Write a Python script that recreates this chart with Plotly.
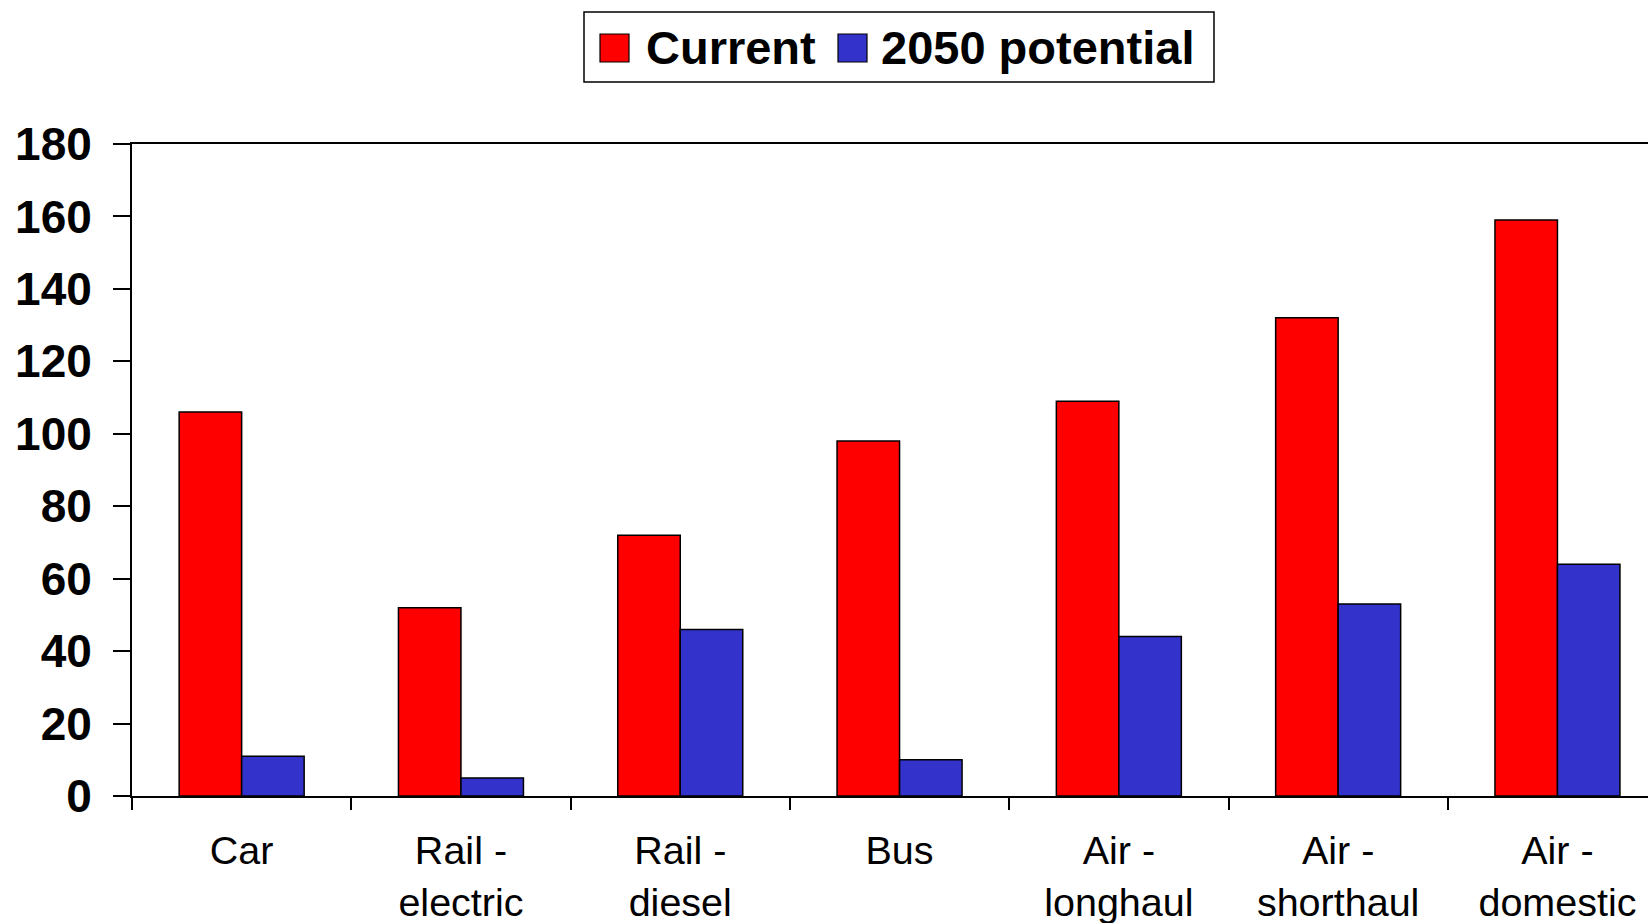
import plotly.graph_objects as go

# Emissions by transport mode: today versus 2050 potential
modes = ["Car", "Rail -<br>electric", "Rail -<br>diesel", "Bus",
         "Air -<br>longhaul", "Air -<br>shorthaul", "Air -<br>domestic"]
current = [106, 52, 72, 98, 109, 132, 159]
potential_2050 = [11, 5, 46, 10, 44, 53, 64]
series_names = ["Current", "2050 potential"]
series_colors = ["#FF0000", "#3333CC"]
y_ticks = [0, 20, 40, 60, 80, 100, 120, 140, 160, 180]

FIG_W, FIG_H = 1648, 923
M_L, M_T, M_R, M_B = 132, 144, 0, 127
PLOT_W = FIG_W - M_L - M_R
PLOT_H = FIG_H - M_T - M_B
FONT = "Liberation Sans, Arial, sans-serif"


def px_x(x):
    return (x - M_L) / PLOT_W


def px_y(y):
    return (FIG_H - M_B - y) / PLOT_H


fig = go.Figure()
for name, vals, col in zip(series_names, [current, potential_2050], series_colors):
    fig.add_trace(go.Bar(
        x=modes, y=vals, name=name,
        marker=dict(color=col, line=dict(color="black", width=1.5)),
        showlegend=False,
    ))

# Category slots are ~219 px wide; the plot runs past the right edge of the page
slot = 219.3
x_end = -0.5 + PLOT_W / slot

shapes = []
annotations = []

# Legend box with large colour swatches
shapes.append(dict(type="rect", xref="paper", yref="paper",
                   x0=px_x(584), x1=px_x(1214), y0=px_y(82), y1=px_y(12),
                   line=dict(color="black", width=1.5), fillcolor="white"))
legend_items = [(600, 644), (838, 879)]
for (sx, tx), name, col in zip(legend_items, series_names, series_colors):
    shapes.append(dict(type="rect", xref="paper", yref="paper",
                       x0=px_x(sx), x1=px_x(sx + 29), y0=px_y(62), y1=px_y(34),
                       line=dict(color="black", width=1.2), fillcolor=col))
    annotations.append(dict(xref="paper", yref="paper", x=px_x(tx), y=px_y(48),
                            xanchor="left", yanchor="middle", showarrow=False,
                            text=f"<b>{name}</b>",
                            font=dict(family=FONT, size=47, color="black")))

fig.update_layout(
    width=FIG_W, height=FIG_H,
    margin=dict(l=M_L, r=M_R, t=M_T, b=M_B, pad=0),
    paper_bgcolor="white", plot_bgcolor="white",
    barmode="group", bargap=0.43, bargroupgap=0,
    shapes=shapes, annotations=annotations,
    showlegend=False,
    xaxis=dict(
        type="category", range=[-0.5, x_end],
        tickson="boundaries", ticks="outside", ticklen=12, tickwidth=1.5,
        tickcolor="black", showline=True, linecolor="black", linewidth=2,
        mirror=True, showgrid=False, zeroline=False,
        tickfont=dict(family=FONT, size=39.5, color="black"),
        ticklabelstandoff=19,
    ),
    yaxis=dict(
        range=[0, 180], tickmode="array", tickvals=y_ticks,
        ticks="outside", ticklen=17, tickwidth=1.5, tickcolor="black",
        showline=True, linecolor="black", linewidth=2,
        showgrid=False, zeroline=False,
        tickfont=dict(family=FONT, size=46, color="black", weight="bold"),
        ticklabelstandoff=12,
    ),
)

fig.write_html("out.html")
